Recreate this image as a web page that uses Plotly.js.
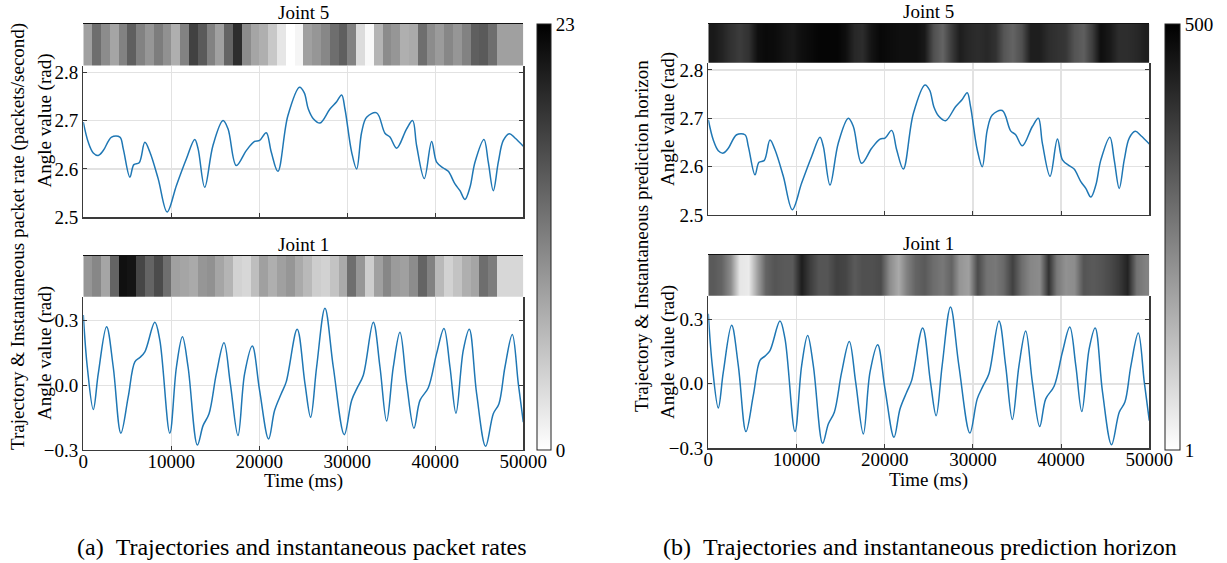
<!DOCTYPE html>
<html>
<head>
<meta charset="utf-8">
<script src="https://cdn.plot.ly/plotly-3.0.1.min.js"></script>
<style>html,body{margin:0;padding:0;background:#fff;}#chart{width:1227px;height:563px;}</style>
</head>
<body>
<div id="chart"></div>
<script>
// ---------- data ----------
const joint5Time = [0,567,1134,1700,2268,3213,4158,4536,5292,5746,6350,6993,7560,8505,9526,10584,11718,12663,13041,13797,14742,15876,16443,17388,18522,19467,20034,20790,21357,22113,23247,24570,25100,25568,26136,26894,28030,28788,29356,29735,30492,31061,31629,32197,33333,34280,34848,35606,36742,37424,37879,38750,39583,40152,40909,41477,42235,42803,43371,43939,44508,45530,46023,46591,47159,47727,48409,49053,50000];
const joint5Angle = [2.697,2.655,2.633,2.628,2.638,2.666,2.666,2.642,2.583,2.609,2.613,2.655,2.635,2.580,2.511,2.566,2.621,2.661,2.642,2.562,2.649,2.700,2.683,2.607,2.638,2.657,2.659,2.675,2.635,2.595,2.710,2.769,2.758,2.724,2.704,2.695,2.724,2.739,2.753,2.724,2.635,2.600,2.676,2.707,2.716,2.674,2.666,2.643,2.683,2.700,2.648,2.580,2.657,2.614,2.602,2.595,2.569,2.555,2.537,2.562,2.614,2.661,2.614,2.555,2.614,2.659,2.673,2.664,2.647];

const joint1Time = [0,454,1134,1701,2646,3402,4271,5103,5859,6426,6993,8127,8694,9828,10584,11264,11907,12965,13608,14288,15120,15989,16708,17577,18333,19202,20034,21055,21735,22491,23058,24305,25189,25833,26515,27462,28409,29659,30492,31136,31818,32955,33712,34470,35227,35985,36742,37576,38258,39205,40152,40985,41667,42348,43182,43864,44697,45720,46591,47235,47917,48750,49432,50000];
const joint1Angle = [0.326,0.085,-0.112,0.054,0.272,0.085,-0.222,-0.054,0.109,0.129,0.155,0.292,0.210,-0.222,0.085,0.225,0.085,-0.277,-0.187,-0.132,0.054,0.197,0.008,-0.233,0.054,0.182,-0.023,-0.249,-0.117,-0.039,0.016,0.260,0.008,-0.148,0.085,0.358,0.085,-0.229,-0.070,-0.011,0.047,0.292,0.085,-0.166,0.085,0.246,0.008,-0.199,-0.070,-0.011,0.148,0.264,0.085,-0.129,0.163,0.260,-0.039,-0.283,-0.132,-0.085,0.085,0.236,0.008,-0.171];

// strip bins (centre time, ms)
const stripTime = [500,1500,2500,3500,4500,5500,6500,7500,8500,9500,10500,11500,12500,13500,14500,15500,16500,17500,18500,19500,20500,21500,22500,23500,24500,25500,26500,27500,28500,29500,30500,31500,32500,33500,34500,35500,36500,37500,38500,39500,40500,41500,42500,43500,44500,45500,46500,47500,48500,49500];

// instantaneous packet rate (packets/second)
const rateJoint5 = [8.6,13.1,10.4,8.1,11.3,14.4,11.3,9.5,11.7,9.9, 7.2,11.3,17.1,14.9,11.3,8.6,14.0,18.9,10.4,8.1, 7.2,5.0,2.3,0,0.9,8.6,9.5,10.8,13.1,14.4, 11.3,3.2,0.5,6.8,10.4,9.5,7.2,7.7,13.1,10.4, 9.0,10.8,9.5,11.3,14.4,14.9,13.1,8.6,8.6,8.6];
const rateJoint1 = [9.5,10.8,8.1,14.0,21.6,21.2,16.7,14.0,16.2,13.1, 8.6,8.1,7.7,9.5,9.9,8.1,6.8,4.1,3.6,5.9, 8.6,7.2,8.6,9.5,7.7,6.3,4.5,4.1,5.4,7.7, 13.1,9.5,4.5,8.6,10.8,9.0,8.6,10.4,14.0,11.3, 6.3,4.1,5.4,7.2,8.1,13.1,11.7,3.6,3.6,3.6];

// instantaneous prediction horizon
const horizonJoint5 = [451,432,402,383,402,471,480,477,461,451, 471,480,490,490,490,471,422,412,461,484, 477,471,471,471,451,343,304,383,441,422, 412,422,402,334,304,343,441,441,412,402, 392,334,314,383,471,451,412,412,422,441];
const horizonJoint1 = [324,304,226,50,40,187,304,334,324,324, 441,383,334,334,373,363,324,343,343,353, 226,167,246,304,324,285,265,304,206,187, 353,275,265,295,373,285,236,226,402,265, 216,226,334,324,334,353,383,431,275,246];

const timeTicks = [0,10000,20000,30000,40000,50000];
const joint5Ticks = [2.5,2.6,2.7,2.8];
const joint1Ticks = [-0.3,0.0,0.3];
const rateRange = [0,23];
const horizonRange = [1,500];

// ---------- layout helpers ----------
const W = 1227, H = 563;
const px = x => x / W;
const py = y => 1 - y / H;
const FONT = '"Liberation Serif","Times New Roman",serif';
const tf = {family: FONT, size: 19, color: '#000'};
const AX = '#3a3a3a', GRID = '#e2e2e2';

function stripX(dom, anchor) {
  return {domain: dom, range: [0, 50000], anchor: anchor, side: 'top', showline: true, linecolor: '#111', linewidth: 1.2,
          showticklabels: false, ticks: '', showgrid: false, zeroline: false, fixedrange: true};
}
function stripY(dom, anchor) {
  return {domain: dom, range: [-0.5, 1.5], anchor: anchor, showticklabels: false, ticks: '', showgrid: false,
          zeroline: false, showline: false};
}
function lineX(dom, anchor, labels) {
  return {domain: dom, range: [0, 50000], anchor: anchor, tickvals: timeTicks, tickformat: 'd', showticklabels: labels,
          ticks: 'inside', ticklen: 4, tickcolor: AX, showline: true, linecolor: AX, linewidth: 1.2,
          ticklabelstandoff: -6,
          showgrid: true, gridcolor: GRID, gridwidth: 1.5, zeroline: false, tickfont: tf};
}
function lineY(dom, anchor, range, tv) {
  return {domain: dom, range: range, anchor: anchor, tickvals: tv, tickformat: '.1f',
          ticks: 'inside', ticklen: 4, tickcolor: AX, showline: true, mirror: 'ticks', linecolor: AX, linewidth: 1.2,
          showgrid: true, gridcolor: GRID, gridwidth: 1.5, zeroline: false, tickfont: tf};
}

const LX = [px(83.3), px(523.3)];
const RX = [px(708.3), px(1149.3)];

const lineStyle = {color: '#1f77b4', width: 1.5, shape: 'spline', smoothing: 1};

const traces = [
  {type: 'heatmap', x: stripTime, y: [0, 1], z: [rateJoint5, rateJoint5], coloraxis: 'coloraxis', xaxis: 'x', yaxis: 'y', zsmooth: false, hoverinfo: 'skip'},
  {type: 'scatter', mode: 'lines', x: joint5Time, y: joint5Angle, line: lineStyle, xaxis: 'x2', yaxis: 'y2', hoverinfo: 'skip'},
  {type: 'heatmap', x: stripTime, y: [0, 1], z: [rateJoint1, rateJoint1], coloraxis: 'coloraxis', xaxis: 'x3', yaxis: 'y3', zsmooth: false, hoverinfo: 'skip'},
  {type: 'scatter', mode: 'lines', x: joint1Time, y: joint1Angle, line: lineStyle, xaxis: 'x4', yaxis: 'y4', hoverinfo: 'skip'},
  {type: 'heatmap', x: stripTime, y: [0, 1], z: [horizonJoint5, horizonJoint5], coloraxis: 'coloraxis2', xaxis: 'x5', yaxis: 'y5', zsmooth: 'best', hoverinfo: 'skip'},
  {type: 'scatter', mode: 'lines', x: joint5Time, y: joint5Angle, line: lineStyle, xaxis: 'x6', yaxis: 'y6', hoverinfo: 'skip'},
  {type: 'heatmap', x: stripTime, y: [0, 1], z: [horizonJoint1, horizonJoint1], coloraxis: 'coloraxis2', xaxis: 'x7', yaxis: 'y7', zsmooth: 'best', hoverinfo: 'skip'},
  {type: 'scatter', mode: 'lines', x: joint1Time, y: joint1Angle, line: lineStyle, xaxis: 'x8', yaxis: 'y8', hoverinfo: 'skip'}
];

function cbar(x0, thick, tv) {
  return {x: px(x0), xanchor: 'left', y: py(450), yanchor: 'bottom', len: 426 / H, lenmode: 'fraction',
          thickness: thick, thicknessmode: 'pixels', outlinewidth: 1, outlinecolor: '#222', xpad: 0, ypad: 0,
          tickvals: tv, ticks: 'inside', ticklen: 4, tickcolor: '#222', tickfont: tf, borderwidth: 0};
}

function ann(text, x, y, opts) {
  return Object.assign({text: text, x: px(x), y: py(y), xref: 'paper', yref: 'paper', showarrow: false,
                        xanchor: 'center', yanchor: 'middle', font: tf}, opts || {});
}
const capFont = {family: FONT, size: 24, color: '#000'};

const layout = {
  width: W, height: H, margin: {l: 0, r: 0, t: 0, b: 0}, paper_bgcolor: '#fff', plot_bgcolor: '#fff',
  showlegend: false, font: tf,
  xaxis: stripX(LX, 'y'), yaxis: stripY([py(65.5), py(24)], 'x'),
  xaxis2: lineX(LX, 'y2', false), yaxis2: lineY([py(217.3), py(65.5)], 'x2', [2.5, 2.814], joint5Ticks),
  xaxis3: stripX(LX, 'y3'), yaxis3: stripY([py(296.7), py(256)], 'x3'),
  xaxis4: lineX(LX, 'y4', true), yaxis4: lineY([py(450), py(296.7)], 'x4', [-0.3, 0.411], joint1Ticks),
  xaxis5: stripX(RX, 'y5'), yaxis5: stripY([py(62.7), py(24)], 'x5'),
  xaxis6: lineX(RX, 'y6', false), yaxis6: lineY([py(215), py(62.7)], 'x6', [2.5, 2.815], joint5Ticks),
  xaxis7: stripX(RX, 'y7'), yaxis7: stripY([py(295.7), py(255)], 'x7'),
  xaxis8: lineX(RX, 'y8', true), yaxis8: lineY([py(448.3), py(295.7)], 'x8', [-0.3, 0.41], joint1Ticks),
  coloraxis: {colorscale: [[0, '#ffffff'], [1, '#000000']], cmin: rateRange[0], cmax: rateRange[1], colorbar: cbar(537, 14, rateRange)},
  coloraxis2: {colorscale: [[0, '#ffffff'], [1, '#000000']], cmin: horizonRange[0], cmax: horizonRange[1], colorbar: cbar(1165, 15, horizonRange)},
  annotations: [
    ann('Joint 5', 303.3, 12.5),
    ann('Joint 1', 303.3, 245),
    ann('Joint 5', 928.8, 11),
    ann('Joint 1', 928.8, 243),
    ann('Angle value (rad)', 45, 120.5, {textangle: -90}),
    ann('Angle value (rad)', 45, 353, {textangle: -90}),
    ann('Angle value (rad)', 668, 119, {textangle: -90}),
    ann('Angle value (rad)', 668, 352, {textangle: -90}),
    ann('Trajectory &amp; Instantaneous packet rate (packets/second)', 18, 237, {textangle: -90}),
    ann('Trajectory &amp; Instantaneous prediction horizon', 641, 236, {textangle: -90}),
    ann('Time (ms)', 303.3, 481),
    ann('Time (ms)', 928.8, 480),
    ann('(a)&nbsp;&nbsp;Trajectories and instantaneous packet rates', 302, 547, {font: capFont}),
    ann('(b)&nbsp;&nbsp;Trajectories and instantaneous prediction horizon', 920, 547, {font: capFont})
  ]
};

Plotly.newPlot('chart', traces, layout, {staticPlot: true, displayModeBar: false});
</script>
</body>
</html>
